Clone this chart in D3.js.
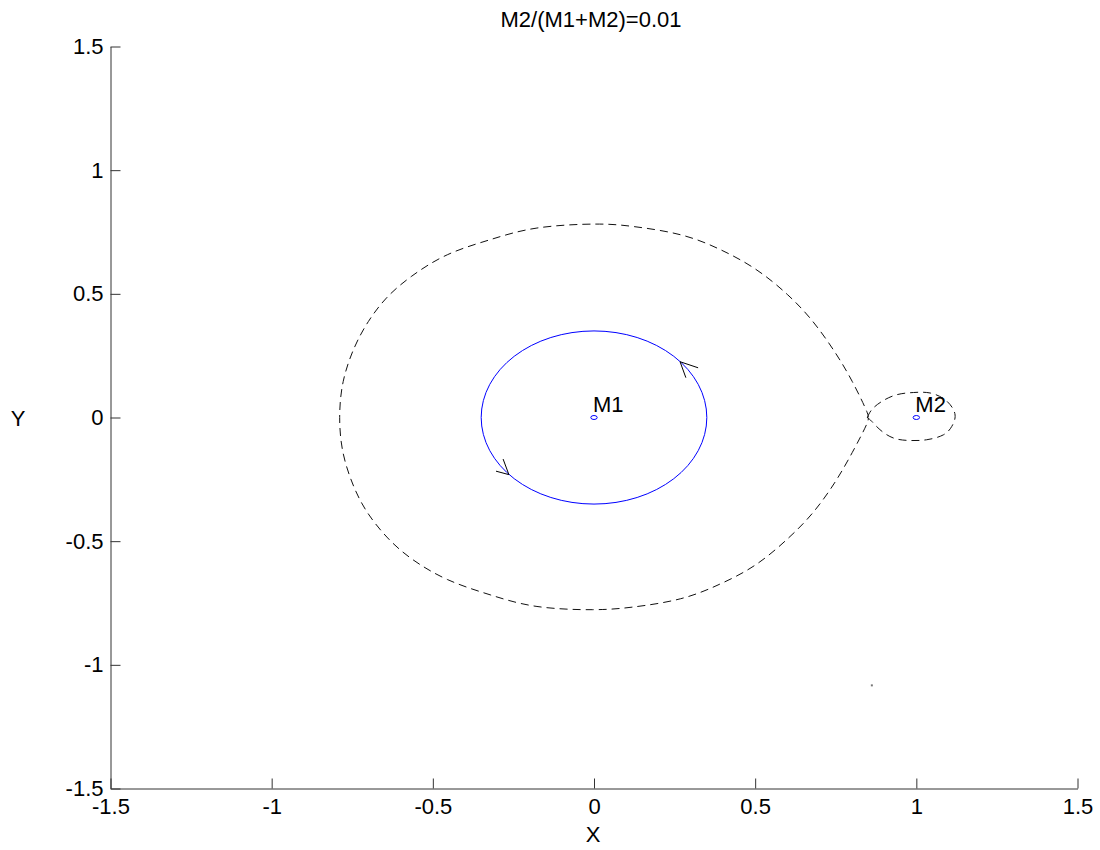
<!DOCTYPE html>
<html>
<head>
<meta charset="utf-8">
<script src="https://cdn.jsdelivr.net/npm/d3@7"></script>
<style>
  html, body { margin: 0; padding: 0; background: #fff; }
  svg { display: block; font-family: Arial, "Liberation Sans", Helvetica, sans-serif; }
</style>
</head>
<body>
<svg id="chart" width="1100" height="850"></svg>
<script>
// ---- data ----
const chartTitle = "M2/(M1+M2)=0.01";
const xLabel = "X";
const yLabel = "Y";
const xTicks = [-1.5, -1, -0.5, 0, 0.5, 1, 1.5];
const xTickLabels = ["-1.5", "-1", "-0.5", "0", "0.5", "1", "1.5"];
const yTicks = [-1.5, -1, -0.5, 0, 0.5, 1, 1.5];
const yTickLabels = ["-1.5", "-1", "-0.5", "0", "0.5", "1", "1.5"];

const bodyNames = ["M1", "M2"];
const bodyX = [0, 1];
const bodyY = [0, 0];

const orbitCenterX = 0;
const orbitCenterY = 0;
const orbitRadius = 0.35;

// outer (Roche) lobe around M1, from L1 counter-clockwise back to L1
const lobeX = [0.848, 0.846, 0.801, 0.746, 0.679, 0.601, 0.501, 0.390, 0.268, 0.123, 0.001,
  -0.177, -0.322, -0.455, -0.567, -0.644, -0.700, -0.744, -0.778, -0.789,
  -0.778, -0.744, -0.700, -0.640, -0.565, -0.455, -0.322, -0.177, -0.004,
  0.123, 0.268, 0.390, 0.501, 0.601, 0.679, 0.746, 0.801, 0.846, 0.848];
const lobeY = [0.000, 0.025, 0.146, 0.267, 0.388, 0.496, 0.600, 0.680, 0.739, 0.772, 0.782,
  0.766, 0.719, 0.658, 0.570, 0.483, 0.388, 0.281, 0.146, 0.000,
  -0.146, -0.283, -0.390, -0.487, -0.572, -0.655, -0.717, -0.764, -0.777,
  -0.766, -0.733, -0.674, -0.596, -0.490, -0.385, -0.265, -0.142, -0.027, 0.000];

// small lobe around M2, from L1 back to L1
const hillX = [0.848, 0.862, 0.893, 0.939, 0.991, 1.043, 1.089, 1.115, 1.120,
  1.110, 1.084, 1.032, 0.980, 0.929, 0.887, 0.862, 0.848];
const hillY = [0.000, 0.032, 0.065, 0.092, 0.101, 0.099, 0.072, 0.032, -0.002,
  -0.036, -0.070, -0.090, -0.093, -0.083, -0.049, -0.016, 0.000];

// direction arrows on the orbit (tip + two wing ends)
const arrowTipX = [0.267, -0.264];
const arrowTipY = [0.2255, -0.231];
const arrowWingAX = [0.323, -0.282];
const arrowWingAY = [0.201, -0.168];
const arrowWingBX = [0.285, -0.304];
const arrowWingBY = [0.161, -0.217];

const strayX = [0.862];
const strayY = [-1.083];

// ---- drawing ----
const svg = d3.select("#chart");
const x = d3.scaleLinear().domain([-1.5, 1.5]).range([110.5, 1077.5]);
const y = d3.scaleLinear().domain([-1.5, 1.5]).range([788.5, 46.5]);
const axisColor = "#333";
const fontSize = 22;

// axes
const gx = svg.append("g").attr("transform", `translate(0,${y(-1.5)})`)
  .call(d3.axisBottom(x).tickValues(xTicks)
    .tickFormat((d, i) => xTickLabels[i])
    .tickSizeInner(-10).tickSizeOuter(0).tickPadding(10));
const gy = svg.append("g").attr("transform", `translate(${x(-1.5)},0)`)
  .call(d3.axisLeft(y).tickValues(yTicks)
    .tickFormat((d, i) => yTickLabels[i])
    .tickSizeInner(-10).tickSizeOuter(0).tickPadding(7));
[gx, gy].forEach(g => {
  g.select(".domain").attr("stroke", axisColor).attr("stroke-width", 1);
  g.selectAll(".tick line").attr("stroke", axisColor).attr("stroke-width", 1);
  g.selectAll(".tick text").attr("fill", "#000").attr("font-size", fontSize)
    .attr("font-family", "Arial, 'Liberation Sans', sans-serif");
});

// title and axis labels
svg.append("text").attr("x", (x(-1.5) + x(1.5)) / 2 - 3).attr("y", 27)
  .attr("text-anchor", "middle").attr("font-size", 22).text(chartTitle);
svg.append("text").attr("x", (x(-1.5) + x(1.5)) / 2 - 1).attr("y", 842)
  .attr("text-anchor", "middle").attr("font-size", fontSize).text(xLabel);
svg.append("text").attr("x", 18).attr("y", y(0) + 8)
  .attr("text-anchor", "middle").attr("font-size", fontSize).text(yLabel);

// orbit
svg.append("ellipse")
  .attr("cx", x(orbitCenterX)).attr("cy", y(orbitCenterY))
  .attr("rx", x(orbitRadius) - x(0)).attr("ry", y(0) - y(orbitRadius))
  .attr("fill", "none").attr("stroke", "#0000ff").attr("stroke-width", 1);

// lobes
const line = d3.line().x(d => x(d[0])).y(d => y(d[1])).curve(d3.curveNatural);
svg.append("path").attr("d", line(lobeX.map((v, i) => [v, lobeY[i]])))
  .attr("fill", "none").attr("stroke", "#111").attr("stroke-width", 1)
  .attr("stroke-dasharray", "8,5");
svg.append("path").attr("d", line(hillX.map((v, i) => [v, hillY[i]])))
  .attr("fill", "none").attr("stroke", "#111").attr("stroke-width", 1)
  .attr("stroke-dasharray", "8,5");

// arrows
arrowTipX.forEach((tx, i) => {
  [[arrowWingAX[i], arrowWingAY[i]], [arrowWingBX[i], arrowWingBY[i]]].forEach(w => {
    svg.append("line")
      .attr("x1", x(tx)).attr("y1", y(arrowTipY[i]))
      .attr("x2", x(w[0])).attr("y2", y(w[1]))
      .attr("stroke", "#000").attr("stroke-width", 1);
  });
});

// bodies
bodyX.forEach((bx, i) => {
  svg.append("ellipse").attr("cx", x(bx)).attr("cy", y(bodyY[i]))
    .attr("rx", 3.2).attr("ry", 2)
    .attr("fill", "none").attr("stroke", "#0000ff").attr("stroke-width", 1);
  svg.append("text").attr("x", x(bx) - 1).attr("y", y(bodyY[i]) - 6)
    .attr("font-size", fontSize).attr("fill", "#000").text(bodyNames[i]);
});

// stray dot
strayX.forEach((sx, i) => {
  svg.append("rect").attr("x", x(sx) - 1).attr("y", y(strayY[i]) - 1)
    .attr("width", 2).attr("height", 2).attr("fill", "#777");
});
</script>
</body>
</html>
